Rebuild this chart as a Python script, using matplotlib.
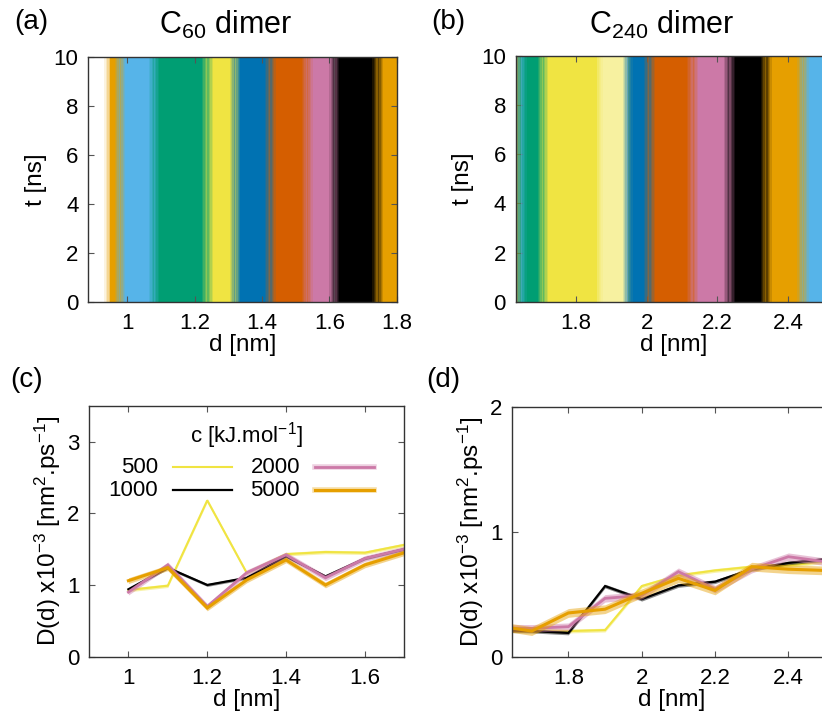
import matplotlib
matplotlib.use("Agg")
import matplotlib.pyplot as plt
from matplotlib.lines import Line2D

plt.rcParams['font.family'] = ['Liberation Sans', 'DejaVu Sans']
plt.rcParams['mathtext.fontset'] = 'custom'
plt.rcParams['mathtext.rm'] = 'Liberation Sans'
plt.rcParams['mathtext.it'] = 'Liberation Sans:italic'
plt.rcParams['mathtext.bf'] = 'Liberation Sans:bold'

# ---------------- data ----------------
band_palette = {
    'orange': '#E69F00', 'sky': '#56B4E9', 'green': '#009E73', 'yellow': '#F0E442',
    'blue': '#0072B2', 'verm': '#D55E00', 'pink': '#CC79A7', 'black': '#000000',
}

# panel (a): C60 dimer sampling windows (d range of points), density
a_colors = ['orange', 'sky', 'green', 'yellow', 'blue', 'verm', 'pink', 'black', 'orange']
a_lo = [0.948, 0.978, 1.080, 1.238, 1.320, 1.425, 1.534, 1.616, 1.744]
a_hi = [0.978, 1.078, 1.238, 1.320, 1.425, 1.534, 1.614, 1.744, 1.810]
a_dens = [1.0, 1.0, 1.0, 1.0, 1.0, 1.0, 1.0, 1.0, 1.0]

# panel (b): C240 dimer sampling windows
b_colors = ['orange', 'sky', 'green', 'yellow', 'yellow', 'blue', 'verm', 'pink', 'black', 'orange', 'sky', 'green']
b_lo = [1.600, 1.632, 1.645, 1.708, 1.860, 1.948, 2.008, 2.130, 2.234, 2.338, 2.442, 2.540]
b_hi = [1.633, 1.645, 1.706, 1.860, 1.945, 2.008, 2.130, 2.234, 2.338, 2.442, 2.545, 2.650]
b_dens = [1.0, 1.0, 1.0, 1.0, 0.5, 1.0, 1.0, 1.0, 1.0, 1.0, 1.0, 1.0]

# panel (c): D(d) for C60 dimer, several force constants
c_labels = ['500', '1000', '2000', '5000']
x_c = [1.0, 1.1, 1.2, 1.3, 1.4, 1.5, 1.6, 1.7]
c500 = [0.93, 0.99, 2.18, 1.17, 1.43, 1.46, 1.45, 1.56]
c1000 = [0.94, 1.24, 1.00, 1.10, 1.40, 1.12, 1.37, 1.50]
c2000 = [0.90, 1.28, 0.70, 1.17, 1.42, 1.10, 1.37, 1.50]
c5000 = [1.06, 1.24, 0.68, 1.07, 1.35, 1.00, 1.28, 1.45]

# panel (d): D(d) for C240 dimer
x_d = [1.6, 1.7, 1.8, 1.9, 2.0, 2.1, 2.2, 2.3, 2.4, 2.5]
d500 = [0.21, 0.21, 0.205, 0.213, 0.565, 0.65, 0.69, 0.72, 0.73, 0.76]
d1000 = [0.21, 0.205, 0.19, 0.565, 0.46, 0.57, 0.60, 0.70, 0.75, 0.78]
d2000 = [0.23, 0.227, 0.24, 0.467, 0.49, 0.68, 0.54, 0.70, 0.80, 0.76]
d5000 = [0.25, 0.205, 0.35, 0.38, 0.507, 0.627, 0.53, 0.72, 0.70, 0.69]

# uncertainty half-widths (shaded bands)
c_err = [0.025, 0.02, 0.04, 0.04]
d_err = [0.015, 0.015, 0.03, 0.035]

line_colors = ['#F0E442', '#000000', '#CC79A7', '#E69F00']
line_widths = [1.5, 1.6, 2.0, 2.2]

# ---------------- figure ----------------
W, H = 822, 724
fig = plt.figure(figsize=(W / 100, H / 100), dpi=100)


def add_ax(left, top, right, bottom):
    ax = fig.add_axes([left / W, 1 - bottom / H, (right - left) / W, (bottom - top) / H])
    ax._px_box = (left, top, right, bottom)
    return ax


FS_TICK = 16
FS_LAB = 17.5
FS_LEG = 16
frame_col = '#333333'


def style(ax):
    for s in ax.spines.values():
        s.set_color(frame_col)
        s.set_linewidth(1.0)
        s.set_zorder(10)
    ax.tick_params(direction='in', top=True, right=True, length=4, width=0.8,
                   color='#555555', labelsize=FS_TICK)
    ax.tick_params(axis='x', pad=8)
    ax.tick_params(axis='y', pad=7)


FRINGE_ALPHAS = [0.6, 0.42, 0.26, 0.12]


def draw_bands(ax, colors, lo, hi, dens, fringe):
    for c, l, h, dn in zip(colors, lo, hi, dens):
        ax.axvspan(l, h, color=band_palette[c], lw=0, alpha=dn, zorder=1)
    step = fringe / len(FRINGE_ALPHAS)
    for c, l, h, dn in zip(colors, lo, hi, dens):
        for k, al in enumerate(FRINGE_ALPHAS):
            ax.axvspan(l - (k + 1) * step, l - k * step, color=band_palette[c], lw=0,
                       alpha=al * dn, zorder=2)
            ax.axvspan(h + k * step, h + (k + 1) * step, color=band_palette[c], lw=0,
                       alpha=al * dn, zorder=2)


# (a)
axa = add_ax(88.3, 56.7, 396.7, 302.3)
draw_bands(axa, a_colors, a_lo, a_hi, a_dens, 0.016)
axa.set_xlim(0.884, 1.8)
axa.set_ylim(0, 10)
axa.set_xticks([1, 1.2, 1.4, 1.6, 1.8])
axa.set_xticklabels(['1', '1.2', '1.4', '1.6', '1.8'])
axa.set_yticks([0, 2, 4, 6, 8, 10])
axa.set_xlabel('d [nm]', fontsize=FS_LAB, labelpad=0)
axa.set_ylabel('t [ns]', fontsize=FS_LAB, labelpad=5)
style(axa)

# (b)
axb = add_ax(515.7, 56.0, 831.7, 301.7)
draw_bands(axb, b_colors, b_lo, b_hi, b_dens, 0.016)
axb.set_xlim(1.630, 2.523)
axb.set_ylim(0, 10)
axb.set_xticks([1.8, 2.0, 2.2, 2.4])
axb.set_xticklabels(['1.8', '2', '2.2', '2.4'])
axb.set_yticks([0, 2, 4, 6, 8, 10])
axb.set_xlabel('d [nm]', fontsize=FS_LAB, labelpad=0)
axb.set_ylabel('t [ns]', fontsize=FS_LAB, labelpad=5)
style(axb)

ylab_D = r'D(d) x10$^{-3}$ [nm$^{2}$.ps$^{-1}$]'


def draw_lines(ax, x, series, errs):
    for i, (y, e) in enumerate(zip(series, errs)):
        lo = [v - e for v in y]
        hi = [v + e for v in y]
        ax.fill_between(x, lo, hi, color=line_colors[i], alpha=0.45, lw=0, zorder=2 + 2 * i)
        ax.plot(x, y, color=line_colors[i], lw=line_widths[i], zorder=3 + 2 * i,
                solid_joinstyle='miter')


def ax_frac(ax, px_x, px_y):
    l, t, r, b = ax._px_box
    return (px_x - l) / (r - l), (b - px_y) / (b - t)


# (c)
axc = add_ax(89.0, 405.7, 404.3, 656.7)
draw_lines(axc, x_c, [c500, c1000, c2000, c5000], c_err)
axc.set_xlim(0.9, 1.7)
axc.set_ylim(0, 3.5)
axc.set_xticks([1, 1.2, 1.4, 1.6])
axc.set_xticklabels(['1', '1.2', '1.4', '1.6'])
axc.set_yticks([0, 1, 2, 3])
axc.set_xlabel('d [nm]', fontsize=FS_LAB, labelpad=0)
axc.set_ylabel(ylab_D, fontsize=FS_LAB, labelpad=3)
style(axc)

# legend drawn gnuplot-style: label right-aligned, then sample line
tx, ty = ax_frac(axc, 246, 436)
axc.text(tx, ty, r'c [kJ.mol$^{-1}$]', transform=axc.transAxes, ha='center', va='center',
         fontsize=FS_LEG, zorder=20)
leg_pos = [(158, 173, 232, 467), (158, 173, 232, 490), (300, 315, 374, 467), (300, 315, 374, 490)]
for i, (lab, (xr, x0, x1, yy)) in enumerate(zip(c_labels, leg_pos)):
    fx, fy = ax_frac(axc, xr, yy)
    axc.text(fx, fy, lab, transform=axc.transAxes, ha='right', va='center', fontsize=FS_LEG,
             zorder=20)
    f0, _ = ax_frac(axc, x0, yy)
    f1, _ = ax_frac(axc, x1, yy)
    if i >= 2:
        axc.add_line(Line2D([f0, f1], [fy, fy], transform=axc.transAxes, color=line_colors[i],
                            lw=4, alpha=0.35, zorder=19))
    axc.add_line(Line2D([f0, f1], [fy, fy], transform=axc.transAxes, color=line_colors[i],
                        lw=line_widths[i], zorder=20))

# (d)
axd = add_ax(512.3, 406.7, 832.0, 656.7)
draw_lines(axd, x_d, [d500, d1000, d2000, d5000], d_err)
axd.set_xlim(1.647, 2.519)
axd.set_ylim(0, 2)
axd.set_xticks([1.8, 2.0, 2.2, 2.4])
axd.set_xticklabels(['1.8', '2', '2.2', '2.4'])
axd.set_yticks([0, 1, 2])
axd.set_xlabel('d [nm]', fontsize=FS_LAB, labelpad=0)
axd.set_ylabel(ylab_D, fontsize=FS_LAB, labelpad=3)
style(axd)


def ftext(px, py, s, **kw):
    fig.text(px / W, 1 - py / H, s, **kw)


ftext(226, 25, r'C$_{60}$ dimer', fontsize=22, ha='center', va='center')
ftext(662, 25, r'C$_{240}$ dimer', fontsize=22, ha='center', va='center')
ftext(31, 22, '(a)', fontsize=20, ha='center', va='center')
ftext(448, 22, '(b)', fontsize=20, ha='center', va='center')
ftext(27, 380, '(c)', fontsize=20, ha='center', va='center')
ftext(443, 380, '(d)', fontsize=20, ha='center', va='center')

fig.savefig('out.png', dpi=100)
